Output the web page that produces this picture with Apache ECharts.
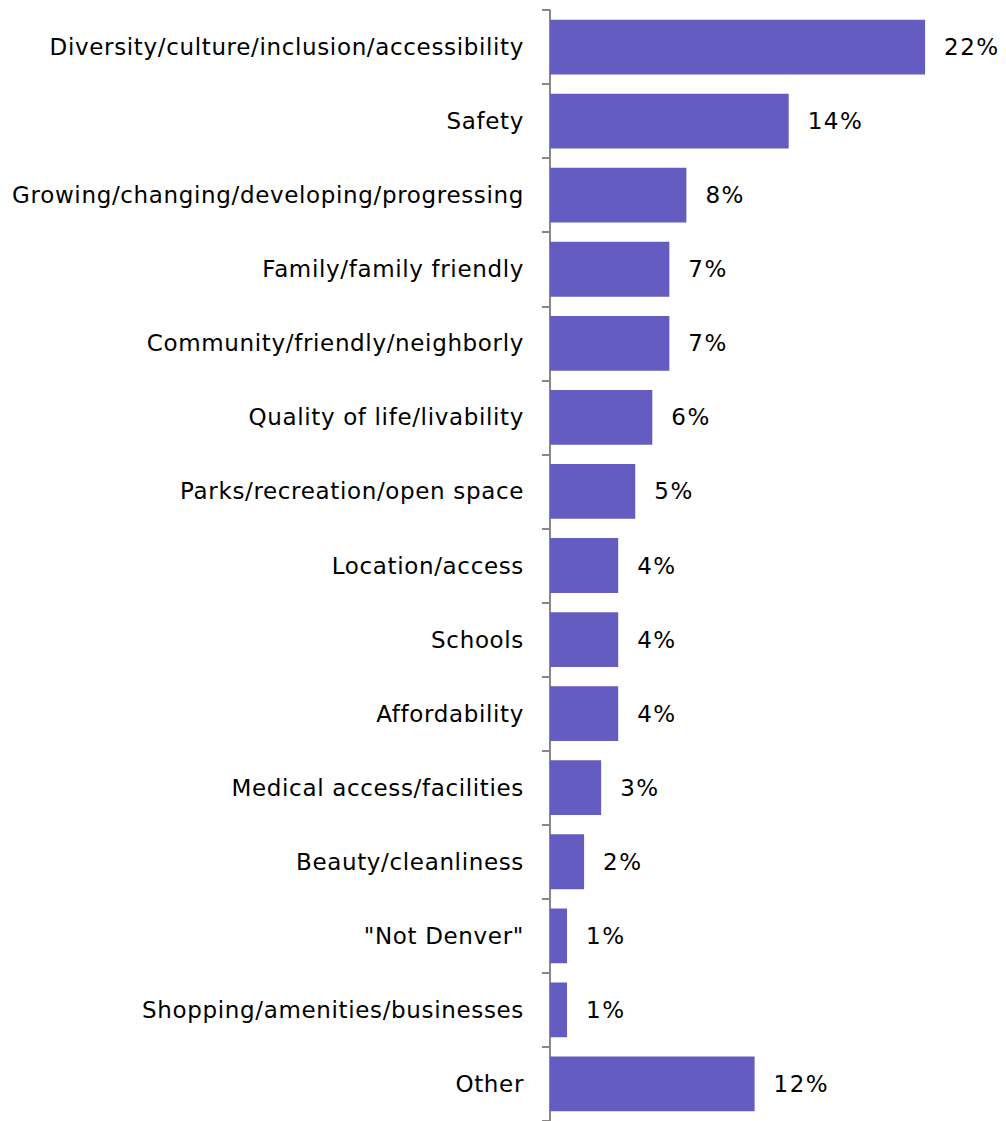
<!DOCTYPE html>
<html><head><meta charset="utf-8">
<script src="https://cdn.jsdelivr.net/npm/echarts@6/dist/echarts.min.js"></script>
<style>html,body{margin:0;padding:0;background:#fff}#c{width:1006px;height:1121px}
#c text{letter-spacing:0.65px}
#c text.val{letter-spacing:1.5px}</style>
</head><body><div id="c"></div>
<script>
const categories = ["Diversity/culture/inclusion/accessibility","Safety","Growing/changing/developing/progressing","Family/family friendly","Community/friendly/neighborly","Quality of life/livability","Parks/recreation/open space","Location/access","Schools","Affordability","Medical access/facilities","Beauty/cleanliness","\"Not Denver\"","Shopping/amenities/businesses","Other"];
const values = [22,14,8,7,7,6,5,4,4,4,3,2,1,1,12];
const chart = echarts.init(document.getElementById('c'), null, {renderer:'svg'});
chart.setOption({
  animation:false,
  grid:{left:550,top:10,right:0,bottom:-4,containLabel:false},
  xAxis:{type:'value',min:0,max:456/17.05,show:false},
  yAxis:{type:'category',data:categories,inverse:true,
    axisLine:{show:true,lineStyle:{color:'#888',width:2}},
    axisTick:{show:true,length:8,lineStyle:{color:'#888',width:2}},
    axisLabel:{color:'#000',fontSize:23,fontFamily:'DejaVu Sans',margin:26}},
  series:[{type:'bar',data:values,barCategoryGap:'26%',
    itemStyle:{color:'#655CC2'},
    label:{show:true,position:'right',distance:19,color:'#000',fontSize:23,fontFamily:'DejaVu Sans',formatter:p=>p.value+'%'}}]
});
// widen digit spacing of value labels
document.querySelectorAll('#c text').forEach(t=>{ if(/%$/.test(t.textContent)) t.setAttribute('class','val'); });
</script></body></html>
